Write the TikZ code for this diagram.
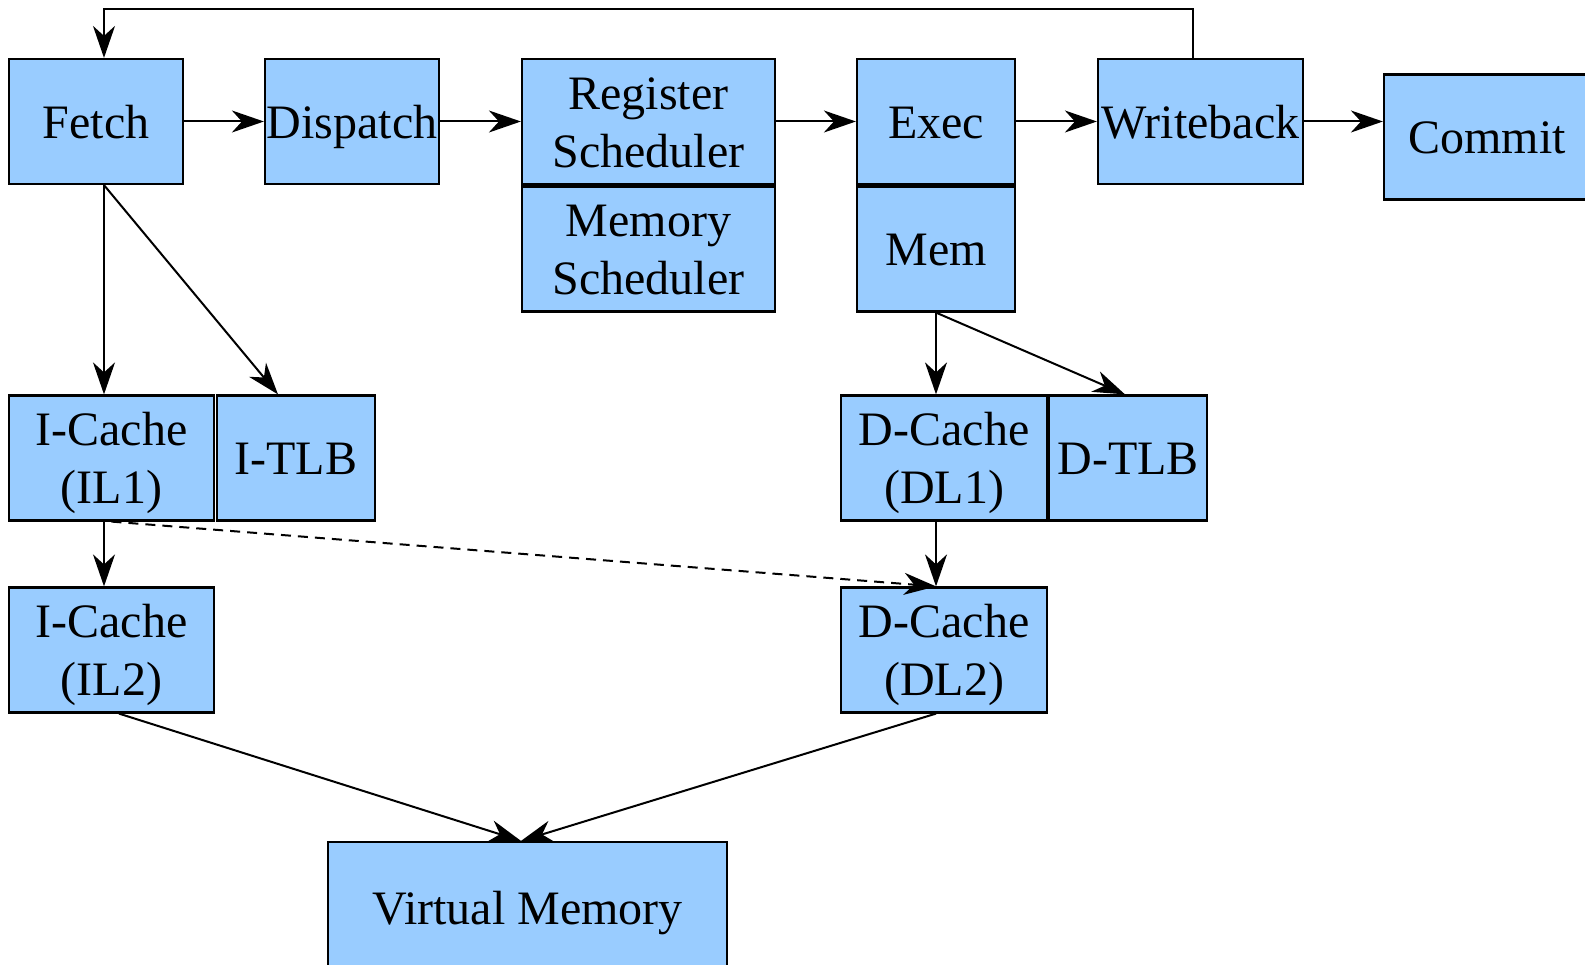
\documentclass[tikz,border=0pt]{standalone}
\usepackage{fontspec}
\setmainfont{Liberation Serif}
\usetikzlibrary{arrows.meta,calc}
\definecolor{boxblue}{HTML}{99CCFF}
\newcommand\mytopstrut{\rule{0pt}{45.6pt}}
\newcommand\mybotstrut{\rule[-12pt]{0pt}{12pt}}
\newcommand\bt[1]{\mytopstrut#1\mybotstrut}
\newcommand\btt[2]{\mytopstrut#1\\#2\mybotstrut}
\begin{document}
\begin{tikzpicture}[x=1pt,y=-1pt,
  blk/.style={draw=black,line width=2.2pt,fill=boxblue,inner sep=0pt,align=center,
    font=\fontsize{48}{58}\selectfont,minimum height=125pt},
  conn/.style={line width=2pt,-{Stealth[length=32pt,width=22pt,inset=10pt]}},
  dashconn/.style={conn,dash pattern=on 10pt off 7pt}]
\useasboundingbox (0,0) rectangle (1585,965);
\node[blk,minimum width=174pt] (fetch) at (96,121.5) {\bt{Fetch}};
\node[blk,minimum width=174pt] (dispatch) at (352,121.5) {\bt{Dispatch}};
\node[blk,minimum width=253pt] (regsched) at (648.5,121.5) {\btt{Register}{Scheduler}};
\node[blk,minimum width=253pt] (memsched) at (648.5,249) {\btt{Memory}{Scheduler}};
\node[blk,minimum width=158pt] (exec) at (936,121.5) {\bt{Exec}};
\node[blk,minimum width=158pt] (mem) at (936,249) {\bt{Mem}};
\node[blk,minimum width=205pt] (writeback) at (1200.5,121.5) {\bt{Writeback}};
\node[blk,minimum width=206pt] (commit) at (1487,137) {\bt{Commit}};
\node[blk,minimum width=205pt] (il1) at (111.5,458) {\btt{I-Cache}{(IL1)}};
\node[blk,minimum width=158pt] (itlb) at (296,458) {\bt{I-TLB}};
\node[blk,minimum width=206pt] (dl1) at (944,458) {\btt{D-Cache}{(DL1)}};
\node[blk,minimum width=158pt] (dtlb) at (1128,458) {\bt{D-TLB}};
\node[blk,minimum width=205pt] (il2) at (111.5,650) {\btt{I-Cache}{(IL2)}};
\node[blk,minimum width=206pt] (dl2) at (944,650) {\btt{D-Cache}{(DL2)}};
\node[blk,minimum width=399pt,minimum height=132pt] (vm) at (527.5,908) {\bt{Virtual Memory}};
\coordinate (fbtop) at (1193,9);
\coordinate (fbleft) at (104,9);
% pipeline
\draw[conn] (fetch.east) -- (dispatch.west);
\draw[conn] (dispatch.east) -- (regsched.west);
\draw[conn] (regsched.east) -- (exec.west);
\draw[conn] (exec.east) -- (writeback.west);
\draw[conn] (writeback.east) -- (writeback.east -| commit.west);
% feedback
\draw[conn] ([xshift=-7.5pt]writeback.north) -- (fbtop) -- (fbleft) -- ([xshift=8pt]fetch.north);
% fetch to caches
\draw[conn] ([xshift=8pt]fetch.south) -- ([xshift=-7.5pt]il1.north);
\draw[conn] ([xshift=8pt]fetch.south) -- ([xshift=-18pt]itlb.north);
\draw[conn] ([xshift=-7.5pt]il1.south) -- ([xshift=-7.5pt]il2.north);
\draw[dashconn] (il1.south) -- ([xshift=-8pt]dl2.north);
% mem to caches
\draw[conn] (mem.south) -- ([xshift=-8pt]dl1.north);
\draw[conn] (mem.south) -- ([xshift=-3pt]dtlb.north);
\draw[conn] ([xshift=-8pt]dl1.south) -- ([xshift=-8pt]dl2.north);
% to virtual memory
\draw[conn] ([xshift=7.5pt]il2.south) -- ([xshift=-6.5pt]vm.north);
\draw[conn] ([xshift=-8pt]dl2.south) -- ([xshift=-6.5pt]vm.north);
\end{tikzpicture}
\end{document}
